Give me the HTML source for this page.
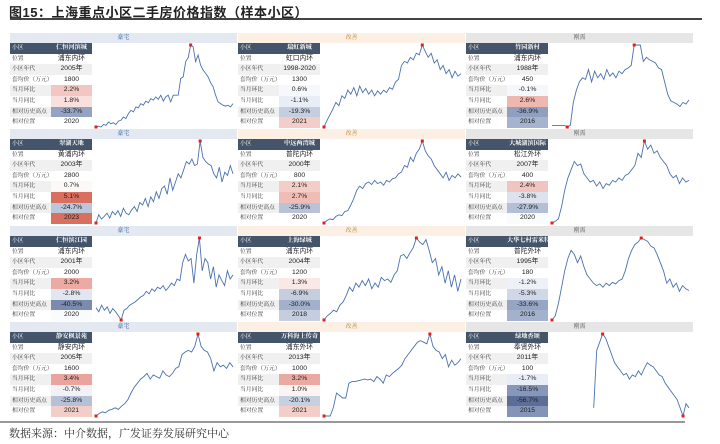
<!DOCTYPE html>
<html><head><meta charset="utf-8">
<style>
*{margin:0;padding:0;box-sizing:border-box}
body{width:720px;height:444px;background:#fff;position:relative;overflow:hidden;font-family:"Liberation Sans","Noto Sans CJK SC",sans-serif}
.title{position:absolute;left:9px;top:2px;font-size:13px;font-weight:bold;color:#222;font-family:"Liberation Sans","Noto Sans CJK SC",sans-serif;letter-spacing:0.5px}
.tline{position:absolute;left:10px;top:18px;width:692px;height:1.5px;background:#444}
.bline2{position:absolute;left:0;top:421px;width:685px;height:2px;background:#999}
.foot{position:absolute;left:9px;top:425px;font-size:11px;color:#333;font-family:"Liberation Sans","Noto Serif CJK SC",serif}
.hdr{position:absolute;height:10px;font-size:6px;text-align:center;line-height:10px;font-family:"Liberation Serif","Noto Serif CJK SC",serif}
.cell{position:absolute;height:10.6px;line-height:10.6px;font-size:5.8px;white-space:nowrap;overflow:hidden;font-family:"Liberation Serif","Noto Serif CJK SC",serif;color:#333}
.val{text-align:center;font-family:"Liberation Sans","Noto Sans CJK SC",sans-serif;font-size:6.8px;color:#222}
svg{position:absolute}
</style></head>
<body>
<div class="title">图15：上海重点小区二手房价格指数（样本小区）</div>
<div class="tline"></div>
<div class="bline2"></div>
<div class="foot">数据来源：中介数据，广发证券发展研究中心</div>
<div id="root"></div>
<script>
const categories=["豪宅","改善","刚需"];
const names=["仁恒河滨城","瑞虹新城","竹园新村","翠湖天地","中远两湾城","大城湖滨国际","仁恒滨江园","上海绿城","大华七村雷米特","静安枫景苑","万科海上传奇","绿地香颂"];
const locations=["浦东内环","虹口内环","浦东内环","黄浦内环","普陀内环","松江外环","浦东内环","浦东内环","普陀外环","静安内环","浦东外环","奉贤外环"];
const years=["2005年","1998-2020","1988年","2003年","2000年","2007年","2001年","2004年","1995年","2005年","2013年","2011年"];
const prices=["1800","1300","450","2800","800","400","2000","1200","180","1600","1000","100"];
const mom=["2.2%","0.6%","-0.1%","0.7%","2.1%","2.4%","3.2%","1.3%","-1.2%","3.4%","3.2%","-1.7%"];
const yoy=["1.8%","-1.1%","2.6%","5.1%","2.7%","-3.8%","-2.8%","-6.9%","-5.3%","-0.7%","1.0%","-16.5%"];
const vsPeak=["-33.7%","-19.3%","-36.9%","-24.7%","-25.9%","-27.9%","-40.5%","-30.0%","-33.6%","-25.8%","-20.1%","-56.7%"];
const peakYear=["2020","2021","2016","2023","2020","2020","2020","2018","2016","2021","2021","2015"];
const momC=["#f3c6c1","#f7f8fb","#f6f7fb","#fdf8f8","#f5cdc8","#f2c4bf","#ebaaa2","#fae8e6","#eef1f7","#e9a59d","#eaa9a1","#e9edf5"];
const yoyC=["#f9e0de","#e9edf5","#eeb7b0","#d9705f","#f0bcb6","#dde3ee","#e1e6f0","#c5cede","#d0d7e6","#f0f2f8","#fcf4f3","#8797bb"];
const peakC=["#94a3c2","#c5cede","#8f9fc0","#bcc6da","#b8c3d8","#b3bfd6","#7a8bb0","#a2b0cc","#96a5c3","#b6c1d7","#c7d0e0","#5c6e98"];
const yearC=["#ffffff","#f3cdc8","#a6b3cf","#d9705f","#ffffff","#fafbfd","#fafbfd","#c5cede","#a3b1cd","#f3cdc8","#f3cdc8","#8494b8"];
const s1=[2,3,2,5,4,8,6,7,5,9,10,14,12,18,22,20,26,25,30,28,33,31,36,34,38,35,40,33,38,40,32,40,40,40,60,62,80,85,100,98,80,88,76,70,66,62,55,50,40,32,30,28,27,28,26,30];
const s2=[0,8,15,22,30,26,38,35,45,40,48,38,50,42,47,40,45,38,44,40,45,42,48,46,55,58,75,80,78,85,82,90,88,100,92,85,90,78,82,70,75,65,70,60,68,62,65];
const s3=[2,2,2,2,2,0,2,30,45,55,60,58,70,55,68,60,65,58,70,62,66,60,68,65,70,72,75,100,100,100,80,85,82,80,78,72,70,55,40,32,30,28,25,30,28,33];
const s4=[0,10,5,8,12,6,14,10,15,8,18,12,10,16,20,14,25,22,30,20,32,26,38,30,42,45,35,55,40,50,60,55,65,75,72,78,70,72,100,80,75,72,70,60,55,68,50,62,58,70,60];
const s5=[0,3,5,4,8,10,9,14,15,22,30,40,45,42,48,50,47,52,48,50,46,52,50,54,55,60,62,70,68,80,75,85,90,100,88,82,78,70,65,60,55,62,52,58,55,60,56];
const s6=[0,2,5,20,40,55,65,75,70,72,60,55,50,52,45,50,42,48,46,52,50,55,52,58,60,65,70,85,80,100,90,95,85,88,80,75,70,60,55,58,48,55,50,52];
const s7=[15,10,18,12,16,8,14,10,5,0,12,14,18,20,22,25,28,30,35,32,38,35,40,38,42,36,40,45,42,50,48,70,80,72,75,45,80,100,60,75,70,50,65,40,55,48,42,60,50,55];
const s8=[0,5,8,12,10,18,22,30,40,35,45,40,48,42,50,38,45,40,52,48,50,46,55,60,78,80,75,82,88,100,95,92,98,85,70,75,55,65,45,60,40,55,35,50];
const s9=[0,5,20,40,60,75,85,80,70,78,65,55,50,45,42,44,40,45,42,46,44,48,50,60,75,85,92,95,100,98,96,90,88,80,70,60,45,50,40,45,35,42,38,36];
const s10=[0,3,5,4,7,8,10,8,12,15,20,28,35,40,45,48,52,45,50,48,46,55,50,48,52,58,60,75,78,80,78,85,100,85,80,78,70,55,65,60,62,58,65,60];
const s11=[0,0,0,10,28,25,22,22,40,42,42,43,44,45,44,45,42,48,45,40,50,48,52,55,58,62,70,75,80,85,90,92,90,88,100,85,80,78,70,75,60,68,62,65,70];
const s12=[null,null,null,null,null,null,null,null,null,null,null,null,null,null,10,80,90,100,95,85,75,65,60,55,50,52,45,50,48,55,50,58,65,62,60,55,50,48,40,35,30,25,20,10,0,15,10];
const series=[s1,s2,s3,s4,s5,s6,s7,s8,s9,s10,s11,s12];
const labels=["小区","位置","小区年代","套均价（万元）","当月环比","当月同比","相对历史高点","相对位置"];

const colX=[10,238,466], rowY=[33,129,226,322], PW=227, LW=41, VW=41, RH=10.6;
const hdrBg=["#e3e8f1","#fbf0e3","#e6e6e6"], hdrFg=["#2f5f9b","#b8843a","#555"];
const root=document.getElementById('root');
function mk(cls,x,y,w,txt,bg){const d=document.createElement('div');d.className=cls;d.style.left=x+'px';d.style.top=y+'px';d.style.width=w+'px';if(bg)d.style.background=bg;d.textContent=txt;root.appendChild(d);return d;}
for(let i=0;i<12;i++){
  const r=Math.floor(i/3),c=i%3,x0=colX[c],y0=rowY[r];
  const h=mk('hdr',x0,y0,PW,categories[c],hdrBg[c]);h.style.color=hdrFg[c];
  
  
  const vals=[names[i],locations[i],years[i],prices[i],mom[i],yoy[i],vsPeak[i],peakYear[i]];
  const vcol=[null,null,null,null,momC[i],yoyC[i],peakC[i],yearC[i]];
  for(let k=0;k<8;k++){
    const ty=y0+10+k*RH;
    const rowBg=k===0?'#44546a':(k%2===0?'#f0f0f0':'#ffffff');
    const l=mk('cell',x0,ty,LW,labels[k],rowBg);l.style.paddingLeft='2px';
    if(k===0)l.style.color='#fff';
    
    
    const v=mk('cell val',x0+LW,ty,VW,vals[k],vcol[k]||rowBg);
    if(k===0){v.style.color='#fff';v.style.fontFamily='"Liberation Serif","Noto Serif CJK SC",serif';v.style.fontSize='6.2px';v.style.fontWeight='bold';}
    
    
  }
  const cx0=x0+LW+VW+4, cw=PW-LW-VW-8, cy0=y0+12, ch=82;
  const ns='http://www.w3.org/2000/svg';
  const svg=document.createElementNS(ns,'svg');
  svg.setAttribute('width',cw+4);svg.setAttribute('height',ch+4);
  svg.style.left=(cx0-2)+'px';svg.style.top=(cy0-2)+'px';
  
  
  root.appendChild(svg);
  const s=series[i],n=s.length;
  const valid=s.filter(v=>v!==null);
  const mn=Math.min(...valid),mx=Math.max(...valid);
  const xs=j=>2+j*cw/(n-1), ys=v=>2+ch-(v-mn)/(mx-mn)*ch;
  let d='';s.forEach((v,j)=>{if(v===null)return;d+=(d?'L':'M')+xs(j).toFixed(1)+' '+ys(v).toFixed(1);});
  const p=document.createElementNS(ns,'path');p.setAttribute('d',d);p.setAttribute('fill','none');p.setAttribute('stroke','#4a72b0');p.setAttribute('stroke-width','0.9');
  
  
  svg.appendChild(p);
  [mn,mx].forEach((t,q)=>{const j=s.indexOf(t);const m=document.createElementNS(ns,'rect');
    m.setAttribute('x',xs(j)-1.5);m.setAttribute('y',ys(t)-1.5);m.setAttribute('width',3);m.setAttribute('height',3);m.setAttribute('fill','#e0211b');
    
    
    svg.appendChild(m);});
}
</script>
</body></html>
